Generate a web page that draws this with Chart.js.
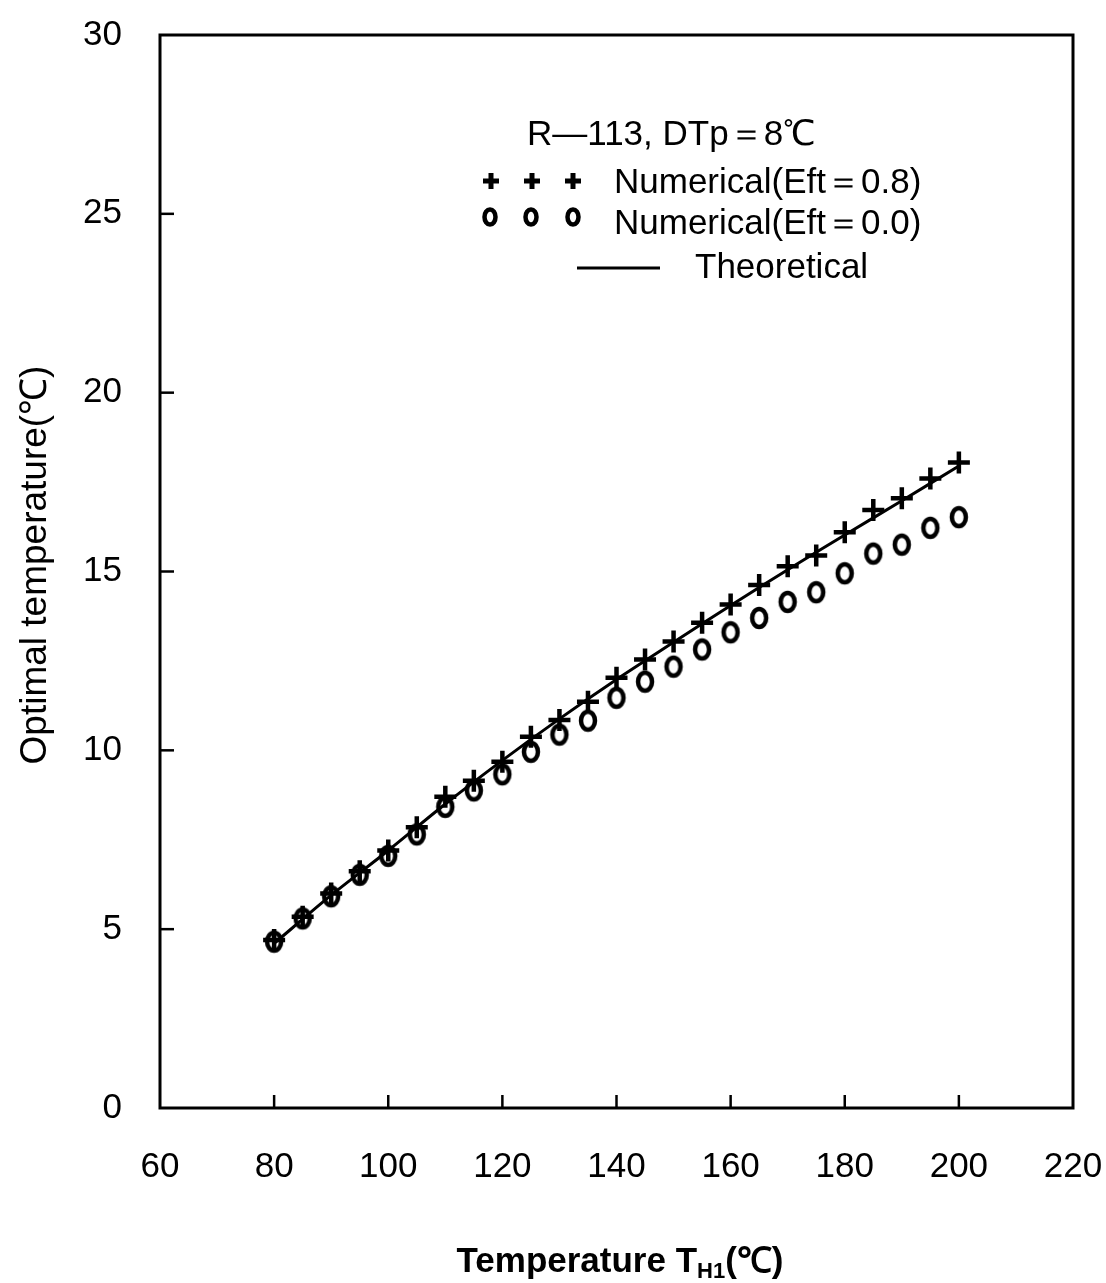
<!DOCTYPE html>
<html>
<head>
<meta charset="utf-8">
<script src="https://cdn.jsdelivr.net/npm/chart.js@4"></script>
<style>
  body { margin: 0; background: #fff; }
  canvas { display: block; }
</style>
</head>
<body>
<canvas id="optChart" width="1106" height="1283"></canvas>
<script>
// data
var tempH1 = [80, 85, 90, 95, 100, 105, 110, 115, 120, 125, 130, 135, 140, 145, 150, 155, 160, 165, 170, 175, 180, 185, 190, 195, 200];
var eft08 = [4.7, 5.35, 6.0, 6.62, 7.2, 7.85, 8.7, 9.15, 9.68, 10.38, 10.85, 11.36, 12.03, 12.54, 13.04, 13.57, 14.08, 14.62, 15.15, 15.45, 16.1, 16.72, 17.05, 17.6, 18.05];
var eft00 = [4.65, 5.3, 5.92, 6.52, 7.05, 7.65, 8.42, 8.88, 9.33, 9.96, 10.44, 10.83, 11.47, 11.92, 12.34, 12.82, 13.3, 13.7, 14.15, 14.42, 14.95, 15.5, 15.75, 16.22, 16.52];
var theoX = [80, 90, 100, 110, 120, 130, 140, 150, 160, 170, 180, 190, 200];
var theoY = [4.6, 5.95, 7.2, 8.5, 9.72, 10.88, 11.98, 13.02, 14.05, 15.05, 16.02, 16.98, 17.95];

var xTicks = [60, 80, 100, 120, 140, 160, 180, 200, 220];
var yTicks = [0, 5, 10, 15, 20, 25, 30];

var FONT = "'Liberation Sans', Arial, sans-serif";

function pairs(xs, ys) {
  return xs.map(function (x, i) { return { x: x, y: ys[i] }; });
}

// the "o" markers are taller than wide, so draw one as an image
function ringImage() {
  var cv = document.createElement('canvas');
  cv.width = 26; cv.height = 30;
  var g = cv.getContext('2d');
  g.strokeStyle = '#000';
  g.lineWidth = 4.5;
  g.beginPath();
  g.ellipse(13, 15, 7, 9, 0, 0, Math.PI * 2);
  g.stroke();
  return cv;
}
var ring = ringImage();

function noOverflow(s) {
  s.paddingTop = 0; s.paddingBottom = 0; s.paddingLeft = 0; s.paddingRight = 0;
}

// frame, inside ticks, titles and legend
var decor = {
  id: 'decor',
  afterDraw: function (chart) {
    var c = chart.ctx;
    var a = chart.chartArea;
    var xs = chart.scales.x, ys = chart.scales.y;
    c.save();
    c.strokeStyle = '#000';
    c.lineWidth = 3;
    c.strokeRect(a.left, a.top, a.right - a.left, a.bottom - a.top);

    c.lineWidth = 2.5;
    [80, 100, 120, 140, 160, 180, 200].forEach(function (v) {
      var px = xs.getPixelForValue(v);
      c.beginPath(); c.moveTo(px, a.bottom); c.lineTo(px, a.bottom - 13); c.stroke();
    });
    [5, 10, 15, 20, 25].forEach(function (v) {
      var py = ys.getPixelForValue(v);
      c.beginPath(); c.moveTo(a.left, py); c.lineTo(a.left + 14, py); c.stroke();
    });

    c.fillStyle = '#000';
    // y title
    c.save();
    c.translate(36, 565);
    c.rotate(-Math.PI / 2);
    c.font = '37px ' + FONT;
    c.textAlign = 'center';
    c.textBaseline = 'middle';
    c.fillText('Optimal temperature(\u2103)', 0, 0);
    c.restore();

    // x title with subscript
    c.font = 'bold 35px ' + FONT;
    c.textBaseline = 'alphabetic';
    c.textAlign = 'left';
    var t1 = 'Temperature T';
    var w1 = c.measureText(t1).width;
    c.font = 'bold 22px ' + FONT;
    var w2 = c.measureText('H1').width;
    c.font = 'bold 35px ' + FONT;
    var w3 = c.measureText('(\u2103)').width;
    var x0 = 620 - (w1 + w2 + w3) / 2, y0 = 1272;
    c.fillText(t1, x0, y0);
    c.font = 'bold 22px ' + FONT;
    c.fillText('H1', x0 + w1, y0 + 6);
    c.font = 'bold 35px ' + FONT;
    c.fillText('(\u2103)', x0 + w1 + w2, y0);

    // legend
    c.font = '35px ' + FONT;
    c.textBaseline = 'middle';
    c.fillText('R\u2014113, DTp\uFF1D8\u2103', 527, 135);
    c.fillText('Numerical(Eft\uFF1D0.8)', 614, 183);
    c.fillText('Numerical(Eft\uFF1D0.0)', 614, 224);
    c.fillText('Theoretical', 695, 268);

    c.lineWidth = 5;
    [491, 532, 573].forEach(function (px) {
      c.beginPath();
      c.moveTo(px - 8, 181); c.lineTo(px + 8, 181);
      c.moveTo(px, 173); c.lineTo(px, 189);
      c.stroke();
    });
    c.lineWidth = 4.5;
    [490, 531, 573].forEach(function (px) {
      c.beginPath();
      c.ellipse(px, 217, 5.5, 7.5, 0, 0, Math.PI * 2);
      c.stroke();
    });
    c.lineWidth = 3;
    c.beginPath(); c.moveTo(577, 268); c.lineTo(660, 268); c.stroke();
    c.restore();
  }
};

var ctx = document.getElementById('optChart');
var myChart = new Chart(ctx, {
  type: 'scatter',
  data: {
    datasets: [
      {
        label: 'Theoretical',
        type: 'line',
        data: pairs(theoX, theoY),
        borderColor: '#000',
        borderWidth: 3,
        pointRadius: 0,
        tension: 0.3,
        fill: false
      },
      {
        label: 'Numerical(Eft=0.8)',
        data: pairs(tempH1, eft08),
        pointStyle: 'cross',
        pointRadius: 11,
        borderColor: '#000',
        borderWidth: 4.5
      },
      {
        label: 'Numerical(Eft=0.0)',
        data: pairs(tempH1, eft00),
        pointStyle: ring,
        pointRadius: 10
      }
    ]
  },
  options: {
    responsive: false,
    animation: false,
    events: [],
    layout: { padding: { top: 35, right: 33, left: 0, bottom: 0 } },
    plugins: {
      legend: { display: false },
      tooltip: { enabled: false }
    },
    scales: {
      x: {
        type: 'linear',
        min: 60,
        max: 220,
        afterBuildTicks: function (s) { s.ticks = xTicks.map(function (v) { return { value: v }; }); },
        afterFit: function (s) { s.height = 175; noOverflow(s); },
        grid: { display: false },
        border: { display: false },
        ticks: { color: '#000', font: { family: FONT, size: 35 }, padding: 30, maxRotation: 0 }
      },
      y: {
        type: 'linear',
        min: 0,
        max: 30,
        afterBuildTicks: function (s) { s.ticks = yTicks.map(function (v) { return { value: v }; }); },
        afterFit: function (s) { s.width = 160; noOverflow(s); },
        grid: { display: false },
        border: { display: false },
        ticks: { color: '#000', font: { family: FONT, size: 35 }, padding: 30 }
      }
    }
  },
  plugins: [decor]
});
</script>
</body>
</html>
